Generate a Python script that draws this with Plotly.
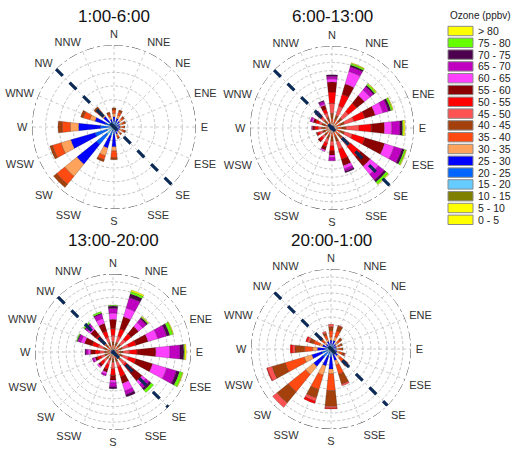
import plotly.graph_objects as go
import numpy as np

# ---------------- data ----------------
DIRECTIONS = ['N', 'NNE', 'NE', 'ENE', 'E', 'ESE', 'SE', 'SSE',
              'S', 'SSW', 'SW', 'WSW', 'W', 'WNW', 'NW', 'NNW']
DIR_ANGLES = [i * 22.5 for i in range(16)]

OZONE_BINS = ['0 - 5', '5 - 10', '10 - 15', '15 - 20', '20 - 25', '25 - 30',
              '30 - 35', '35 - 40', '40 - 45', '45 - 50', '50 - 55', '55 - 60',
              '60 - 65', '65 - 70', '70 - 75', '75 - 80', '> 80']
BIN_COLORS = ['#FFFF00', '#FFFF00', '#7F7F00', '#66CCFF', '#0066FF', '#0000FF',
              '#FFA35C', '#FF4A12', '#A3400C', '#FF5252', '#FF0000', '#8B0000',
              '#FF40FF', '#C000C0', '#4D004D', '#66FF00', '#FFFF00']

PANEL_TITLES = ['1:00-6:00', '6:00-13:00', '13:00-20:00', '20:00-1:00']
PANEL_RMAX = [12, 10, 10, 10]
PANEL_DTICK = [2, 1, 1, 1]

# 1:00-6:00  (rows = directions N..NNW, columns = bins below)
p1_bins = ['15 - 20', '20 - 25', '25 - 30', '30 - 35', '35 - 40', '40 - 45']
p1_values = [
    [0.3, 0.6, 0.6, 0.5, 0.5, 0.3],
    [0.3, 0.5, 0.5, 0.5, 0.5, 0.3],
    [0.3, 0.4, 0.4, 0.4, 0.3, 0.2],
    [0.3, 0.3, 0.3, 0.4, 0.3, 0.2],
    [0.3, 0.3, 0.3, 0.3, 0.3, 0.1],
    [0.3, 0.3, 0.3, 0.4, 0.3, 0.2],
    [0.3, 0.3, 0.3, 0.3, 0.2, 0.1],
    [0.3, 0.4, 0.4, 0.3, 0.3, 0.1],
    [0.4, 0.7, 1.8, 0.6, 1.0, 0.3],
    [0.5, 0.9, 1.8, 1.2, 0.6, 0.3],
    [1.4, 1.9, 3.7, 2.3, 1.5, 0.6],
    [1.1, 1.8, 3.7, 1.5, 1.3, 0.4],
    [0.5, 1.5, 3.2, 1.2, 1.2, 0.6],
    [0.4, 0.9, 1.6, 0.8, 1.0, 0.4],
    [0.4, 0.6, 1.0, 0.7, 0.7, 0.4],
    [0.3, 0.4, 0.5, 0.4, 0.4, 0.3],
]

# 6:00-13:00
p2_bins = ['25 - 30', '30 - 35', '35 - 40', '40 - 45', '45 - 50', '50 - 55',
           '55 - 60', '60 - 65', '65 - 70', '70 - 75', '75 - 80', '> 80']
p2_values = [
    [0.3, 0.3, 0.6, 0.6, 1.2, 1.4, 1.2, 0.4, 0.3, 0.2, 0.0, 0.0],
    [0.3, 0.3, 0.5, 0.5, 1.2, 1.5, 1.3, 1.6, 0.6, 0.2, 0.2, 0.1],
    [0.3, 0.3, 0.5, 0.5, 1.0, 1.3, 1.2, 0.9, 0.5, 0.2, 0.2, 0.1],
    [0.3, 0.3, 0.5, 0.5, 1.2, 1.4, 1.3, 1.0, 0.7, 0.3, 0.2, 0.1],
    [0.3, 0.3, 0.6, 0.5, 1.6, 1.5, 1.6, 0.9, 1.0, 0.3, 0.1, 0.2],
    [0.3, 0.3, 0.5, 0.5, 1.0, 1.6, 2.5, 1.2, 1.0, 0.3, 0.2, 0.1],
    [0.3, 0.3, 0.5, 0.5, 1.3, 1.6, 1.5, 1.3, 0.9, 0.3, 0.3, 0.1],
    [0.3, 0.3, 0.5, 0.6, 1.0, 1.3, 0.8, 0.4, 0.3, 0.2, 0.0, 0.0],
    [0.3, 0.3, 0.5, 0.5, 0.6, 0.6, 0.5, 0.3, 0.4, 0.0, 0.0, 0.0],
    [0.3, 0.3, 0.4, 0.4, 0.5, 0.5, 0.4, 0.2, 0.0, 0.0, 0.0, 0.0],
    [0.3, 0.3, 0.3, 0.3, 0.4, 0.4, 0.2, 0.0, 0.0, 0.0, 0.0, 0.0],
    [0.3, 0.3, 0.3, 0.3, 0.4, 0.3, 0.1, 0.0, 0.0, 0.0, 0.0, 0.0],
    [0.3, 0.3, 0.3, 0.4, 0.4, 0.4, 0.3, 0.1, 0.0, 0.0, 0.0, 0.0],
    [0.3, 0.3, 0.3, 0.4, 0.4, 0.4, 0.3, 0.2, 0.2, 0.0, 0.0, 0.0],
    [0.3, 0.3, 0.3, 0.4, 0.4, 0.4, 0.3, 0.2, 0.1, 0.0, 0.0, 0.0],
    [0.3, 0.3, 0.4, 0.4, 0.5, 0.5, 0.5, 0.2, 0.3, 0.1, 0.0, 0.0],
]

# 13:00-20:00
p3_bins = ['25 - 30', '30 - 35', '35 - 40', '40 - 45', '45 - 50', '50 - 55',
           '55 - 60', '60 - 65', '65 - 70', '70 - 75', '75 - 80', '> 80']
p3_values = [
    [0.3, 0.2, 0.4, 0.4, 0.8, 0.9, 1.2, 0.8, 0.6, 0.3, 0.1, 0.0],
    [0.3, 0.2, 0.4, 0.4, 0.8, 1.0, 1.6, 1.2, 1.4, 0.5, 0.3, 0.2],
    [0.3, 0.2, 0.4, 0.4, 0.8, 0.9, 1.2, 0.7, 0.6, 0.2, 0.1, 0.1],
    [0.3, 0.2, 0.4, 0.4, 0.8, 1.0, 1.6, 1.3, 1.2, 0.4, 0.4, 0.1],
    [0.3, 0.2, 0.4, 0.4, 0.8, 1.0, 2.4, 1.8, 1.3, 0.5, 0.1, 0.2],
    [0.3, 0.2, 0.4, 0.4, 0.8, 1.0, 2.2, 1.9, 1.3, 0.4, 0.4, 0.1],
    [0.3, 0.2, 0.4, 0.4, 0.8, 1.2, 1.5, 0.6, 0.6, 0.3, 0.4, 0.0],
    [0.3, 0.2, 0.4, 0.4, 0.7, 1.3, 0.9, 1.0, 0.5, 0.3, 0.0, 0.0],
    [0.3, 0.2, 0.4, 0.4, 0.8, 0.9, 0.6, 0.3, 0.6, 0.2, 0.0, 0.0],
    [0.3, 0.2, 0.3, 0.3, 0.6, 0.6, 0.4, 0.3, 0.2, 0.0, 0.0, 0.0],
    [0.3, 0.2, 0.3, 0.3, 0.5, 0.5, 0.3, 0.2, 0.0, 0.0, 0.0, 0.0],
    [0.3, 0.2, 0.3, 0.3, 0.5, 0.5, 0.3, 0.2, 0.2, 0.0, 0.0, 0.0],
    [0.3, 0.2, 0.3, 0.3, 0.6, 0.6, 0.6, 0.3, 0.3, 0.1, 0.0, 0.0],
    [0.3, 0.2, 0.4, 0.4, 0.7, 0.8, 1.0, 0.5, 0.4, 0.1, 0.1, 0.0],
    [0.3, 0.2, 0.4, 0.4, 0.7, 0.8, 0.9, 0.5, 0.4, 0.1, 0.2, 0.0],
    [0.3, 0.2, 0.4, 0.4, 0.7, 0.8, 1.0, 0.7, 0.6, 0.1, 0.2, 0.0],
]

# 20:00-1:00
p4_bins = ['15 - 20', '20 - 25', '25 - 30', '30 - 35', '35 - 40', '40 - 45',
           '45 - 50', '50 - 55']
p4_values = [
    [0.3, 0.3, 0.5, 0.4, 0.8, 0.5, 0.3, 0.0],
    [0.3, 0.3, 0.5, 0.5, 0.8, 0.6, 0.1, 0.0],
    [0.2, 0.3, 0.3, 0.3, 0.4, 0.3, 0.0, 0.0],
    [0.2, 0.2, 0.3, 0.3, 0.3, 0.2, 0.0, 0.0],
    [0.2, 0.2, 0.3, 0.3, 0.3, 0.2, 0.0, 0.0],
    [0.2, 0.3, 0.3, 0.3, 0.4, 0.3, 0.1, 0.0],
    [0.3, 0.3, 0.5, 0.4, 0.6, 0.5, 0.2, 0.0],
    [0.3, 0.4, 0.8, 0.6, 1.2, 1.3, 0.2, 0.0],
    [0.4, 0.6, 1.5, 0.6, 2.1, 2.0, 0.2, 0.1],
    [0.4, 0.6, 1.2, 1.2, 1.9, 1.1, 0.4, 0.3],
    [0.5, 0.8, 1.5, 1.3, 2.8, 1.8, 0.7, 0.0],
    [0.5, 0.7, 1.3, 1.0, 2.5, 1.7, 0.6, 0.1],
    [0.3, 0.5, 0.9, 0.6, 1.0, 1.2, 0.3, 0.3],
    [0.3, 0.3, 0.5, 0.4, 0.8, 0.5, 0.3, 0.2],
    [0.2, 0.3, 0.3, 0.3, 0.4, 0.2, 0.1, 0.1],
    [0.3, 0.3, 0.4, 0.3, 0.5, 0.3, 0.2, 0.0],
]

# NW-SE dividing line directions
DIVIDER_DIRS = ['NW', 'SE']

PANELS = [(p1_bins, p1_values), (p2_bins, p2_values),
          (p3_bins, p3_values), (p4_bins, p4_values)]

# ---------------- figure ----------------
W, H = 520, 454
FONT = 'Arial, Liberation Sans, sans-serif'
BAR_WIDTH = 12

# panel geometry in pixels: (cx, cy, R)
GEOM = [(114, 127, 82), (332, 128, 82), (113, 352, 78), (331, 349, 80)]

fig = go.Figure()
color_of = dict(zip(OZONE_BINS, BIN_COLORS))

for k, (bins, table) in enumerate(PANELS):
    sp = 'polar' if k == 0 else f'polar{k+1}'
    for j, b in enumerate(bins):
        fig.add_trace(go.Barpolar(
            r=[row[j] for row in table], theta=DIR_ANGLES, width=BAR_WIDTH,
            marker=dict(color=color_of[b], line=dict(color='rgba(30,30,30,0.55)', width=0.4)),
            name=b, subplot=sp, showlegend=False))
    rmax = PANEL_RMAX[k]
    # outer dash-dot frame circle
    circ = np.linspace(0, 360, 241)
    fig.add_trace(go.Scatterpolar(r=[rmax] * len(circ), theta=circ, mode='lines',
                                  line=dict(color='#333333', width=1, dash='dashdot'),
                                  subplot=sp, showlegend=False, hoverinfo='skip'))
    # NW-SE dashed divider
    a1 = DIR_ANGLES[DIRECTIONS.index(DIVIDER_DIRS[0])]
    a2 = DIR_ANGLES[DIRECTIONS.index(DIVIDER_DIRS[1])]
    fig.add_trace(go.Scatterpolar(r=[rmax, 0, rmax], theta=[a1, 0, a2], mode='lines',
                                  line=dict(color='#0B2A55', width=3.2, dash='dash'),
                                  subplot=sp, showlegend=False, hoverinfo='skip'))

layout = dict(width=W, height=H, margin=dict(l=0, r=0, t=0, b=0),
              paper_bgcolor='white', plot_bgcolor='white',
              font=dict(family=FONT, color='#222'))

for k in range(4):
    cx, cy, R = GEOM[k]
    key = 'polar' if k == 0 else f'polar{k+1}'
    layout[key] = dict(
        domain=dict(x=[(cx - R) / W, (cx + R) / W], y=[1 - (cy + R) / H, 1 - (cy - R) / H]),
        bgcolor='white', barmode='stack',
        radialaxis=dict(range=[0, PANEL_RMAX[k]], dtick=PANEL_DTICK[k], showticklabels=False,
                        ticks='', showline=False, gridcolor='#C4C4C4', gridwidth=0.7,
                        griddash='3px,2px'),
        angularaxis=dict(direction='clockwise', rotation=90, tickmode='array',
                         tickvals=DIR_ANGLES, ticktext=DIRECTIONS, ticks='outside',
                         ticklen=2, tickcolor='rgba(0,0,0,0)', showline=False,
                         gridcolor='#CCCCCC', gridwidth=0.7, griddash='dot',
                         tickfont=dict(size=11, color='#333', family=FONT)),
    )

annotations = []
for k in range(4):
    cx, cy, R = GEOM[k]
    ty = 17 if k < 2 else 240
    annotations.append(dict(text=PANEL_TITLES[k], x=cx / W, y=1 - ty / H, xref='paper',
                            yref='paper', showarrow=False, xanchor='center', yanchor='middle',
                            font=dict(size=17, color='#111', family=FONT)))

# manual legend (bins listed top = highest)
shapes = []
annotations.append(dict(text='Ozone (ppbv)', x=480 / W, y=1 - 15 / H, xref='paper', yref='paper',
                        showarrow=False, xanchor='center', yanchor='middle',
                        font=dict(size=10, color='#222', family=FONT)))
legend_order = list(reversed(range(len(OZONE_BINS))))
for i, bi in enumerate(legend_order):
    yc = 31 + i * 11.8
    shapes.append(dict(type='rect', xref='paper', yref='paper',
                       x0=448 / W, x1=473 / W, y0=1 - (yc + 4.7) / H, y1=1 - (yc - 4.7) / H,
                       fillcolor=BIN_COLORS[bi], line=dict(color='#8A8A8A', width=1)))
    annotations.append(dict(text=OZONE_BINS[bi], x=476 / W, y=1 - yc / H, xref='paper',
                            yref='paper', showarrow=False, xanchor='left', yanchor='middle',
                            font=dict(size=10.5, color='#222', family=FONT)))

layout['annotations'] = annotations
layout['shapes'] = shapes
fig.update_layout(**layout)
fig.write_html('out.html', config={'displayModeBar': False},
               post_script="document.body.style.margin='0';document.body.style.overflow='hidden';")
